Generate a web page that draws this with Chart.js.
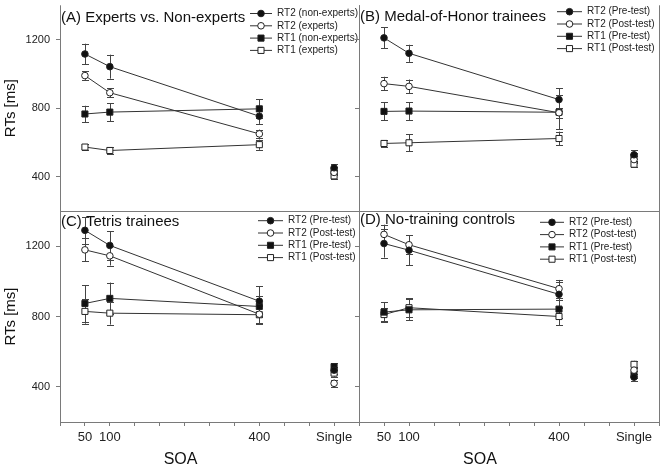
<!DOCTYPE html>
<html lang="en">
<head>
  <meta charset="UTF-8" />
  <title>RTs by SOA</title>
  <script src="https://cdn.jsdelivr.net/npm/chart.js"></script>
  <style>
    body { margin: 0; background: #fff; }
    #wrap { position: relative; width: 670px; height: 469px; }
    #wrap canvas { position: absolute; left: 0; top: 0; }
  </style>
</head>
<body>
<div id="wrap">
  <canvas id="panelA" width="670" height="469"></canvas>
  <canvas id="panelB" width="670" height="469"></canvas>
  <canvas id="panelC" width="670" height="469"></canvas>
  <canvas id="panelD" width="670" height="469"></canvas>
</div>

<script>
  // SOA positions, "Single" is drawn at 550 on the same axis
  const soa = [50, 100, 400, 550];
  const xTickValues = [0, 50, 100, 150, 200, 250, 300, 350, 400, 450, 500, 550, 600];
  const xLabelValues = [50, 100, 400, 550];
  const xLabelTexts = ['50', '100', '400', 'Single'];
  const yTickValues = [400, 800, 1200];

  const labelsA = ['RT2 (non-experts)', 'RT2 (experts)', 'RT1 (non-experts)', 'RT1 (experts)'];
  const labelsPrePost = ['RT2 (Pre-test)', 'RT2 (Post-test)', 'RT1 (Pre-test)', 'RT1 (Post-test)'];

  // (A) Experts vs. Non-experts
  const aRt2Non = [1116, 1042, 753, 452];
  const aRt2Exp = [990, 890, 650, 425];
  const aRt1Non = [766, 777, 796, 435];
  const aRt1Exp = [573, 553, 587, 405];
  const aErrRt2Non = [60, 70, 45, 20];
  const aErrRt2Exp = [25, 25, 25, 15];
  const aErrRt1Non = [48, 52, 55, 20];
  const aErrRt1Exp = [18, 18, 30, 18];

  // (B) Medal-of-Honor trainees
  const bRt2Pre = [1210, 1120, 850, 528];
  const bRt2Post = [943, 927, 773, 500];
  const bRt1Pre = [781, 783, 776, 515];
  const bRt1Post = [594, 598, 623, 473];
  const bErrRt2Pre = [62, 50, 65, 25];
  const bErrRt2Post = [40, 40, 30, 20];
  const bErrRt1Pre = [52, 52, 100, 25];
  const bErrRt1Post = [18, 50, 40, 15];

  // (C) Tetris trainees
  const cRt2Pre = [1290, 1204, 887, 495];
  const cRt2Post = [1179, 1145, 813, 420];
  const cRt1Pre = [874, 903, 857, 515];
  const cRt1Post = [829, 819, 810, 478];
  const cErrRt2Pre = [75, 80, 85, 20];
  const cErrRt2Post = [65, 55, 50, 20];
  const cErrRt1Pre = [105, 90, 60, 20];
  const cErrRt1Post = [70, 65, 50, 20];

  // (D) No-training controls
  const dRt2Pre = [1215, 1177, 926, 455];
  const dRt2Post = [1267, 1208, 958, 495];
  const dRt1Pre = [825, 838, 842, 470];
  const dRt1Post = [811, 850, 800, 528];
  const dErrRt2Pre = [80, 85, 70, 20];
  const dErrRt2Post = [55, 55, 50, 20];
  const dErrRt1Pre = [55, 60, 50, 20];
  const dErrRt1Post = [35, 55, 50, 20];

  const W = 670, H = 469;
  const axisGray = '#7a7a7a';
  const lineColor = '#333';
  Chart.defaults.font.family = '"Liberation Sans", Arial, sans-serif';

  // marker style per series: RT2 filled circle, RT2 open circle, RT1 filled square, RT1 open square
  const markers = [
    { pointStyle: 'circle', pointRadius: 3.3, pointBackgroundColor: '#111' },
    { pointStyle: 'circle', pointRadius: 3.3, pointBackgroundColor: '#fff' },
    { pointStyle: 'rect', pointRadius: 4.3, pointBackgroundColor: '#111' },
    { pointStyle: 'rect', pointRadius: 4.3, pointBackgroundColor: '#fff' }
  ];

  const decor = {
    id: 'decor',
    beforeDatasetsDraw(chart) {
      // error bars
      const ctx = chart.ctx, ys = chart.scales.y, a = chart.chartArea;
      ctx.save();
      ctx.beginPath(); ctx.rect(a.left, a.top, a.right - a.left, a.bottom - a.top); ctx.clip();
      ctx.strokeStyle = '#444';
      ctx.lineWidth = 1;
      chart.data.datasets.forEach((ds, i) => {
        const meta = chart.getDatasetMeta(i);
        ds.data.forEach((p, j) => {
          const e = ds.errors[j];
          const x = Math.round(meta.data[j].x) + 0.5;
          const y0 = ys.getPixelForValue(p.y - e), y1 = ys.getPixelForValue(p.y + e);
          ctx.beginPath();
          ctx.moveTo(x, y0); ctx.lineTo(x, y1);
          ctx.moveTo(x - 3.5, Math.round(y0) + 0.5); ctx.lineTo(x + 3.5, Math.round(y0) + 0.5);
          ctx.moveTo(x - 3.5, Math.round(y1) + 0.5); ctx.lineTo(x + 3.5, Math.round(y1) + 0.5);
          ctx.stroke();
        });
      });
      ctx.restore();
    },
    afterDraw(chart, args, opts) {
      const ctx = chart.ctx, a = chart.chartArea;
      ctx.save();
      // frame (the top edge is the bottom edge of the panel above)
      ctx.strokeStyle = axisGray;
      ctx.lineWidth = 1;
      const l = Math.round(a.left) + 0.5, r = Math.round(a.right) + 0.5;
      const b = Math.round(a.bottom) + 0.5;
      ctx.beginPath();
      ctx.moveTo(l, a.top); ctx.lineTo(l, b); ctx.lineTo(r, b); ctx.lineTo(r, a.top);
      ctx.stroke();

      // panel title
      ctx.fillStyle = '#111';
      ctx.font = '15px "Liberation Sans", Arial, sans-serif';
      ctx.textBaseline = 'alphabetic';
      ctx.textAlign = 'left';
      ctx.fillText(opts.title, a.left + opts.titleDx, a.top + opts.titleDy);

      // legend, clipped to the panel
      ctx.beginPath(); ctx.rect(a.left, a.top, a.right - a.left, a.bottom - a.top); ctx.clip();
      ctx.font = '10px "Liberation Sans", Arial, sans-serif';
      ctx.textBaseline = 'middle';
      chart.data.datasets.forEach((ds, i) => {
        const y = opts.legendY + i * 12.3;
        ctx.strokeStyle = ds.borderColor;
        ctx.beginPath(); ctx.moveTo(opts.legendX0, y); ctx.lineTo(opts.legendX1, y); ctx.stroke();
        ctx.fillStyle = ds.pointBackgroundColor;
        ctx.strokeStyle = ds.pointBorderColor;
        Chart.helpers.drawPoint(ctx, { pointStyle: ds.pointStyle, radius: ds.pointRadius, rotation: 0, borderWidth: 1 },
          (opts.legendX0 + opts.legendX1) / 2, y);
        ctx.fillStyle = '#222';
        ctx.fillText(ds.label, opts.legendX1 + 5, y);
      });
      ctx.restore();

      // x axis title
      if (opts.xTitle) {
        ctx.save();
        ctx.fillStyle = '#111';
        ctx.font = '16px "Liberation Sans", Arial, sans-serif';
        ctx.textAlign = 'center';
        ctx.textBaseline = 'alphabetic';
        ctx.fillText('SOA', chart.scales.x.getPixelForValue(242), 464);
        ctx.restore();
      }
    }
  };

  const makePanel = (id, p) => {
    const yWidth = p.showY ? 60 : 4;
    const datasets = p.series.map((vals, i) => ({
      label: p.labels[i],
      data: vals.map((v, k) => ({ x: soa[k], y: v })),
      errors: p.errors[i],
      borderColor: lineColor,
      borderWidth: 1,
      pointBorderColor: '#222',
      pointBorderWidth: 1,
      ...markers[i],
      // no line from 400 to the single-task point
      segment: { borderColor: c => c.p1DataIndex === soa.length - 1 ? 'rgba(0,0,0,0)' : undefined }
    }));
    new Chart(document.getElementById(id), {
      type: 'line',
      data: { datasets },
      plugins: [decor],
      options: {
        responsive: false,
        animation: false,
        events: [],
        layout: {
          padding: {
            left: p.area.left - yWidth,
            top: p.area.top,
            right: W - p.area.right,
            bottom: 0
          }
        },
        plugins: {
          legend: { display: false },
          tooltip: { enabled: false },
          decor: { title: p.title, titleDx: p.titleDx, titleDy: p.titleDy, legendX0: p.legend[0], legendX1: p.legend[1], legendY: p.legend[2], xTitle: p.showX }
        },
        scales: {
          x: {
            type: 'linear', min: 0, max: 600, display: p.showX,
            afterBuildTicks: s => { s.ticks = xTickValues.map(v => ({ value: v })); },
            // the x box fills everything below the panel (hidden for the top row)
            afterFit: s => { s.height = H - p.area.bottom; s.paddingLeft = 0; s.paddingRight = 0; },
            grid: { drawOnChartArea: false, drawTicks: true, tickLength: 4, color: axisGray },
            border: { display: false },
            ticks: {
              autoSkip: false, maxRotation: 0, padding: 4, color: '#222', font: { size: 13 },
              callback: v => { const k = xLabelValues.indexOf(v); return k < 0 ? '' : xLabelTexts[k]; }
            }
          },
          y: {
            type: 'linear', min: 200, max: 1400,
            afterBuildTicks: s => { s.ticks = yTickValues.map(v => ({ value: v })); },
            afterFit: s => { s.width = yWidth; s.paddingTop = 0; s.paddingBottom = 0; },
            grid: { drawOnChartArea: false, drawTicks: true, tickLength: 4, color: axisGray },
            border: { display: false },
            ticks: { display: p.showY, padding: 6, color: '#222', font: { size: 11 }, callback: v => String(v) },
            title: { display: p.showY, text: 'RTs [ms]', color: '#111', font: { size: 15 }, padding: { top: 2, bottom: 0 } }
          }
        }
      }
    });
  };

  makePanel('panelA', {
    title: '(A) Experts vs. Non-experts', titleDx: 1, titleDy: 17,
    labels: labelsA,
    series: [aRt2Non, aRt2Exp, aRt1Non, aRt1Exp],
    errors: [aErrRt2Non, aErrRt2Exp, aErrRt1Non, aErrRt1Exp],
    area: { left: 60, top: 0, right: 359, bottom: 211 },
    legend: [250, 272, 13.5], showY: true, showX: false
  });
  makePanel('panelB', {
    title: '(B) Medal-of-Honor trainees', titleDx: 1, titleDy: 16,
    labels: labelsPrePost,
    series: [bRt2Pre, bRt2Post, bRt1Pre, bRt1Post],
    errors: [bErrRt2Pre, bErrRt2Post, bErrRt1Pre, bErrRt1Post],
    area: { left: 359, top: 0, right: 659, bottom: 211 },
    legend: [557, 582, 11.7], showY: false, showX: false
  });
  makePanel('panelC', {
    title: '(C) Tetris trainees', titleDx: 1, titleDy: 15,
    labels: labelsPrePost,
    series: [cRt2Pre, cRt2Post, cRt1Pre, cRt1Post],
    errors: [cErrRt2Pre, cErrRt2Post, cErrRt1Pre, cErrRt1Post],
    area: { left: 60, top: 211, right: 359, bottom: 422 },
    legend: [258, 283, 220.7], showY: true, showX: true
  });
  makePanel('panelD', {
    title: '(D) No-training controls', titleDx: 1, titleDy: 13,
    labels: labelsPrePost,
    series: [dRt2Pre, dRt2Post, dRt1Pre, dRt1Post],
    errors: [dErrRt2Pre, dErrRt2Post, dErrRt1Pre, dErrRt1Post],
    area: { left: 359, top: 211, right: 659, bottom: 422 },
    legend: [540, 564, 222.3], showY: false, showX: true
  });
</script>
</body>
</html>
